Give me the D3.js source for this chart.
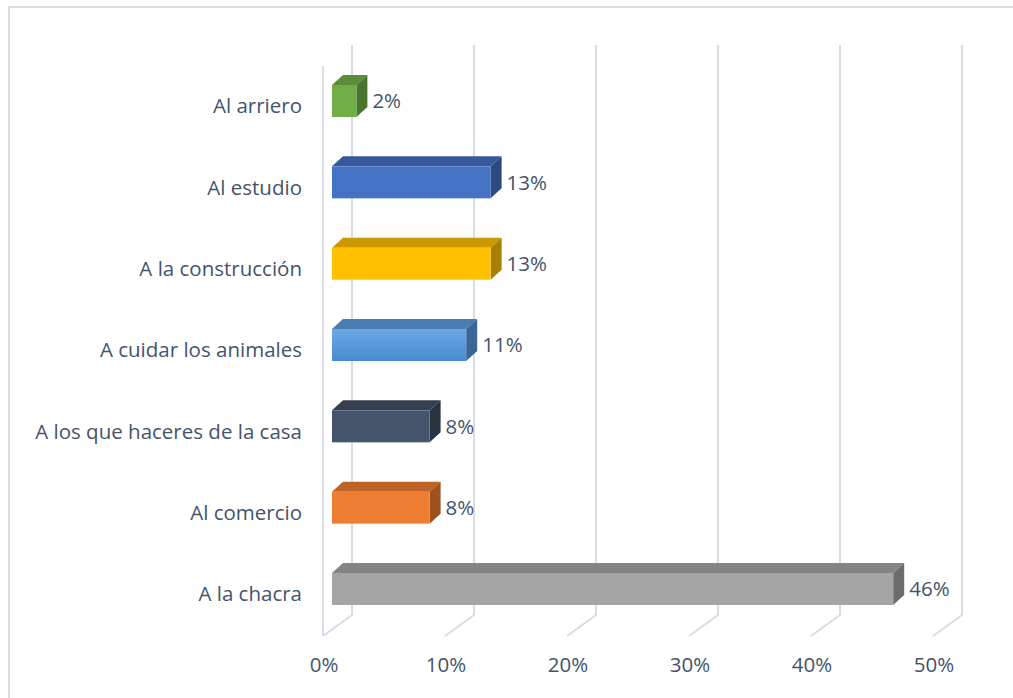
<!DOCTYPE html>
<html>
<head>
<meta charset="utf-8">
<script src="https://cdn.jsdelivr.net/npm/d3@7"></script>
<style>
  body { margin: 0; background: #fff; }
  text { font-family: "Open Sans", sans-serif; fill: #44546a; }
</style>
</head>
<body>
<div id="vis"></div>
<script>
var w = 1013;
var h = 698;

// data
var categories = ["Al arriero", "Al estudio", "A la construcción", "A cuidar los animales", "A los que haceres de la casa", "Al comercio", "A la chacra"];
var values = [2, 13, 13, 11, 8, 8, 46];
var ticks = [0, 10, 20, 30, 40, 50];
var frontColors = ["#70ad47", "#4472c4", "#ffc000", "#5b9bd5", "#44546a", "#ed7d31", "#a5a5a5"];
var topColors = ["#5a8c39", "#36599b", "#cc9a00", "#4a7daf", "#353f4f", "#bd6327", "#848484"];
var sideColors = ["#4a7430", "#2c4a80", "#a87f00", "#3a6594", "#2a3340", "#9c511f", "#6c6c6c"];

var svg = d3.select("#vis")
    .append("svg")
    .attr("width", w)
    .attr("height", h);

// outer frame
svg.append("rect")
    .attr("x", 9)
    .attr("y", 7)
    .attr("width", w + 20)
    .attr("height", h + 20)
    .attr("fill", "none")
    .attr("stroke", "#d9dee5")
    .attr("stroke-width", 2);

var x = d3.scaleLinear().domain([0, 50]).range([332, 942]);
var y = d3.scalePoint().domain(categories).range([101, 589]);

var barH = 32;
var dx = 11, dy = -10;       // depth of the bars
var gBack = 20, gFront = -9; // gridline back / front offsets
var gTop = 45, gBottom = 615, gDrop = 21;

// gridlines (back wall + floor diagonal)
var grid = svg.append("g");
ticks.forEach(function(t) {
    var xb = x(t) + gBack;
    grid.append("path")
        .attr("d", "M" + xb + "," + gTop + "L" + xb + "," + gBottom + "L" + (x(t) + gFront) + "," + (gBottom + gDrop))
        .attr("fill", "none")
        .attr("stroke", "#d9dce4")
        .attr("stroke-width", 2);
});
// side wall front edge
grid.append("line")
    .attr("x1", x(0) + gFront)
    .attr("x2", x(0) + gFront)
    .attr("y1", gTop + gDrop)
    .attr("y2", gBottom + gDrop)
    .attr("stroke", "#d9dce4")
    .attr("stroke-width", 2);

// gradient for light blue bar
var defs = svg.append("defs");
var grad = defs.append("linearGradient")
    .attr("id", "lb")
    .attr("x1", 0).attr("y1", 0).attr("x2", 0).attr("y2", 1);
grad.append("stop").attr("offset", "0%").attr("stop-color", "#6aa8e4");
grad.append("stop").attr("offset", "100%").attr("stop-color", "#4a8bd0");

// bars
var bars = svg.selectAll("g.bar")
    .data(categories)
    .enter()
    .append("g")
    .attr("class", "bar");

bars.append("path")
    .attr("d", function(d, i) {
        var x0 = x(0), x1 = x(values[i]), yt = y(d) - barH / 2;
        return "M" + x0 + "," + yt + "L" + (x0 + dx) + "," + (yt + dy) + "L" + (x1 + dx) + "," + (yt + dy) + "L" + x1 + "," + yt + "Z";
    })
    .attr("fill", function(d, i) { return topColors[i]; });

bars.append("path")
    .attr("d", function(d, i) {
        var x1 = x(values[i]), yt = y(d) - barH / 2, yb = yt + barH;
        return "M" + x1 + "," + yt + "L" + (x1 + dx) + "," + (yt + dy) + "L" + (x1 + dx) + "," + (yb + dy) + "L" + x1 + "," + yb + "Z";
    })
    .attr("fill", function(d, i) { return sideColors[i]; });

bars.append("rect")
    .attr("x", x(0))
    .attr("y", function(d) { return y(d) - barH / 2; })
    .attr("width", function(d, i) { return x(values[i]) - x(0); })
    .attr("height", barH)
    .attr("fill", function(d, i) { return i == 3 ? "url(#lb)" : frontColors[i]; });

// value labels
bars.append("text")
    .attr("x", function(d, i) { return x(values[i]) + dx + 5; })
    .attr("y", function(d) { return y(d) + 2; })
    .attr("dominant-baseline", "middle")
    .style("font-size", "20.5px")
    .text(function(d, i) { return values[i] + "%"; });

// category labels
svg.selectAll("text.cat")
    .data(categories)
    .enter()
    .append("text")
    .attr("class", "cat")
    .attr("x", 302)
    .attr("y", function(d) { return y(d) + 7; })
    .attr("text-anchor", "end")
    .attr("dominant-baseline", "middle")
    .style("font-size", "20.5px")
    .text(function(d) { return d; });

// tick labels
svg.selectAll("text.tick")
    .data(ticks)
    .enter()
    .append("text")
    .attr("class", "tick")
    .attr("x", function(d) { return x(d) + gFront + 1; })
    .attr("y", 667)
    .attr("text-anchor", "middle")
    .attr("dominant-baseline", "middle")
    .style("font-size", "20.5px")
    .text(function(d) { return d + "%"; });
</script>
</body>
</html>
